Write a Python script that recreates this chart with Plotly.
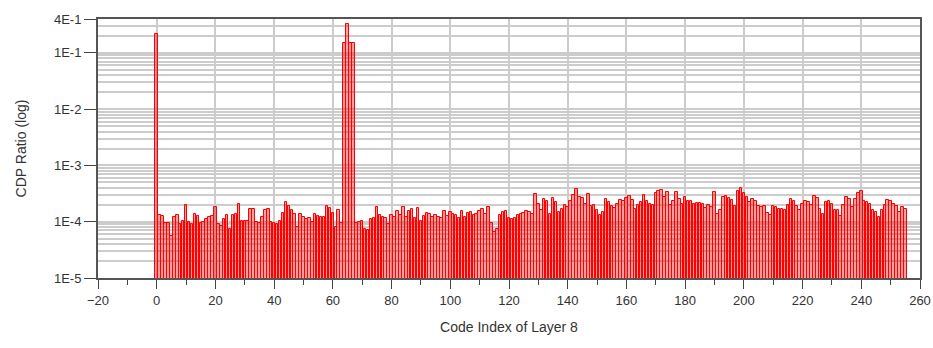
import math
import plotly.graph_objects as go

# CDP ratio per code index (units of 1E-4)
codes = list(range(256))
cdp_e4 = [
    2200, 1.3, 1.25, 0.95, 0.95, 0.55, 1.2, 1.3, 0.9, 1.05,
    1.95, 1.0, 0.9, 1.35, 1.25, 0.95, 1.0, 1.1, 1.2, 1.25,
    1.8, 0.9, 0.85, 1.1, 1.3, 0.75, 1.3, 1.35, 2.1, 1.05,
    1.05, 1.05, 1.7, 1.65, 1.0, 0.95, 1.2, 1.6, 1.65, 1.0,
    0.95, 0.9, 1.05, 1.45, 2.2, 1.9, 1.6, 1.4, 0.8, 1.35,
    1.2, 1.1, 1.15, 1.0, 1.35, 1.25, 1.2, 1.2, 1.9, 1.75,
    1.45, 0.8, 1.6, 0.95, 1500, 3300, 1500, 1500, 0.95, 1.0,
    1.05, 0.75, 0.7, 1.1, 1.15, 1.85, 1.3, 1.2, 1.15, 0.9,
    1.3, 1.2, 1.55, 1.3, 1.8, 1.2, 1.55, 1.7, 1.15, 1.75,
    1.05, 1.25, 1.45, 1.35, 1.2, 1.3, 1.2, 1.15, 1.55, 1.25,
    1.5, 1.35, 1.3, 1.15, 1.55, 1.2, 1.45, 1.5, 1.3, 1.35,
    1.55, 1.65, 1.4, 1.8, 0.95, 0.65, 0.75, 1.3, 1.5, 1.55,
    1.15, 1.1, 1.15, 1.3, 1.4, 1.45, 1.55, 1.5, 1.35, 3.1,
    2.05, 1.6, 2.5, 2.3, 1.4, 2.6, 2.2, 1.5, 1.65, 2.0,
    1.8, 2.3, 3.0, 3.8, 2.7, 2.6, 2.1, 3.1, 1.9, 2.0,
    1.6, 1.3, 1.5, 2.5, 2.2, 1.9, 1.75, 2.05, 2.4, 2.3,
    2.6, 2.9, 2.4, 1.7, 2.0, 2.2, 3.0, 2.3, 2.1, 2.0,
    3.3, 3.5, 3.6, 2.8, 3.4, 2.0, 2.3, 3.4, 2.5, 2.1,
    2.8, 2.3, 2.3, 2.1, 2.15, 2.15, 2.05, 1.75, 2.0, 1.8,
    3.4, 1.35, 1.6, 2.8, 2.9, 2.6, 2.4, 1.9, 3.5, 3.9,
    3.2, 2.7, 2.2, 2.5, 2.3, 1.9, 1.85, 1.9, 1.45, 1.3,
    1.9, 1.85, 1.7, 1.7, 1.6, 1.95, 2.5, 2.3, 1.9, 1.6,
    2.1, 2.3, 2.2, 2.0, 2.9, 2.6, 1.7, 1.35, 2.2, 2.3,
    2.1, 1.6, 1.6, 1.25, 2.0, 2.8, 2.5, 1.8, 2.5, 3.2,
    3.5, 2.3, 2.2, 2.1, 1.6, 1.5, 1.2, 1.6, 2.0, 2.4,
    2.3, 2.1, 1.9, 1.5, 1.8, 1.7,
]
cdp = [v * 1e-4 for v in cdp_e4]

y_tickvals = [1e-5, 1e-4, 1e-3, 1e-2, 1e-1, 4e-1]
y_ticktext = ["1E-5", "1E-4", "1E-3", "1E-2", "1E-1", "4E-1"]
x_tickvals = list(range(-20, 261, 20))

font = "Liberation Sans, Arial, sans-serif"

fig = go.Figure()
fig.add_trace(go.Bar(
    x=codes[:len(cdp)], y=cdp, width=0.85,
    marker=dict(color="rgba(255,0,0,0.38)", line=dict(color="#ff0000", width=1)),
))

fig.update_layout(
    width=933, height=348,
    margin=dict(l=98, r=13, t=19, b=70),
    paper_bgcolor="white", plot_bgcolor="white",
    showlegend=False, bargap=0,
    font=dict(family=font, size=13, color="#333333"),
    xaxis=dict(
        range=[-20, 260], tickmode="array", tickvals=x_tickvals,
        ticks="outside", ticklen=9, tickcolor="#444444", tickwidth=1,
        showgrid=True, gridcolor="#cccccc", gridwidth=1.5,
        showline=True, linecolor="#555555", linewidth=2, mirror=True,
        zeroline=False, automargin=False,
        minor=dict(dtick=10, ticks="outside", ticklen=5, tickcolor="#444444", showgrid=False),
        title=dict(text="Code Index of Layer 8", font=dict(size=14, color="#333333"), standoff=16),
        tickfont=dict(size=13, color="#333333"),
    ),
    yaxis=dict(
        type="log", range=[-5, math.log10(0.4)],
        tickmode="array", tickvals=y_tickvals, ticktext=y_ticktext,
        ticks="outside", ticklen=12, tickcolor="#444444", tickwidth=1,
        showgrid=True, gridcolor="#cccccc", gridwidth=1.5,
        showline=True, linecolor="#555555", linewidth=2, mirror=True,
        zeroline=False, automargin=False,
        minor=dict(dtick="D1", showgrid=True, gridcolor="#cccccc", gridwidth=1.5, ticks=""),
        title=dict(text="CDP Ratio (log)", font=dict(size=14, color="#333333"), standoff=24),
        tickfont=dict(size=13, color="#333333"),
    ),
)

fig.write_html(
    "out.html",
    config={"displayModeBar": False},
    post_script="document.body.style.margin='0';document.body.style.overflow='hidden';",
)
